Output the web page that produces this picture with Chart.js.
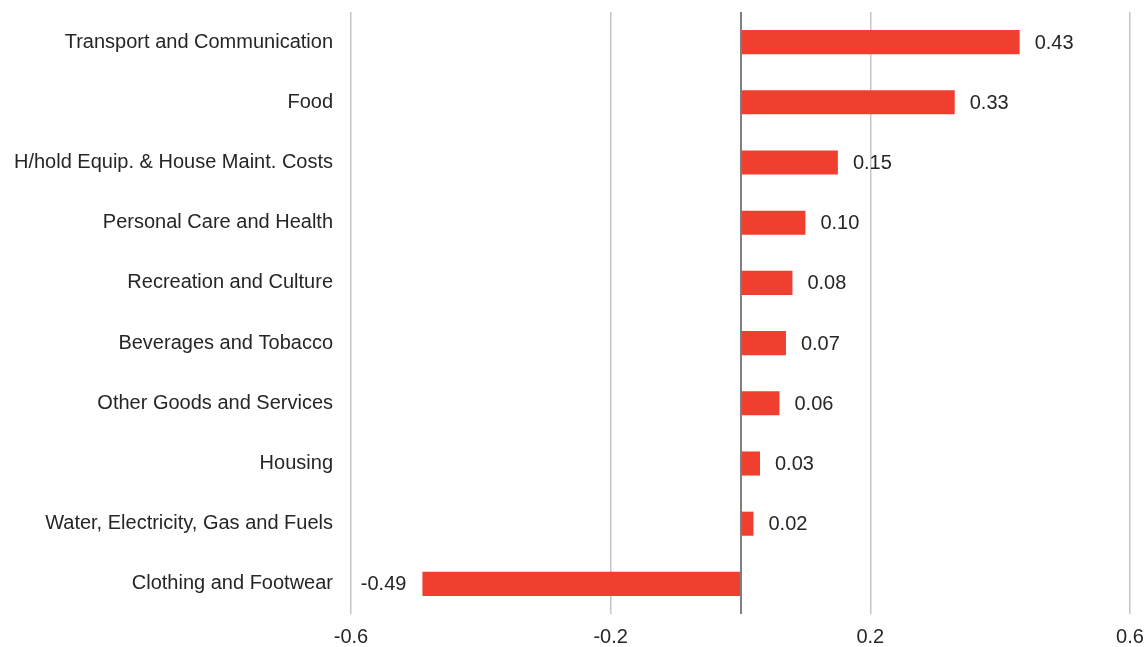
<!DOCTYPE html>
<html>
<head>
<meta charset="utf-8">
<script src="https://cdn.jsdelivr.net/npm/chart.js@4.4.1/dist/chart.umd.min.js"></script>
<style>
  html, body { margin: 0; padding: 0; background: #fff; }
  #wrap { width: 1145px; height: 647px; position: relative; }
</style>
</head>
<body>
<div id="wrap"><canvas id="contribChart"></canvas></div>
<script>
const categories = [
    'Transport and Communication',
    'Food',
    'H/hold Equip. & House Maint. Costs',
    'Personal Care and Health',
    'Recreation and Culture',
    'Beverages and Tobacco',
    'Other Goods and Services',
    'Housing',
    'Water, Electricity, Gas and Fuels',
    'Clothing and Footwear'
];
const contributions = [0.43, 0.33, 0.15, 0.10, 0.08, 0.07, 0.06, 0.03, 0.02, -0.49];
const xTickValues = [-0.6, -0.2, 0.2, 0.6];

const textColor = '#262626';
const fontFamily = 'Arial, "Liberation Sans", sans-serif';

// value labels next to each bar end
const barLabels = {
    id: 'barLabels',
    afterDatasetsDraw(chart) {
        const ctx = chart.ctx;
        const meta = chart.getDatasetMeta(0);
        ctx.save();
        ctx.font = '20px ' + fontFamily;
        ctx.fillStyle = textColor;
        ctx.textBaseline = 'middle';
        meta.data.forEach((bar, i) => {
            const v = contributions[i];
            if (v >= 0) {
                ctx.textAlign = 'left';
                ctx.fillText(v.toFixed(2), bar.x + 15, bar.y + 1);
            } else {
                ctx.textAlign = 'right';
                ctx.fillText(v.toFixed(2), bar.x - 16, bar.y + 1);
            }
        });
        ctx.restore();
    }
};

// darker line at zero
const zeroLine = {
    id: 'zeroLine',
    afterDatasetsDraw(chart) {
        const x = Math.round(chart.scales.x.getPixelForValue(0));
        const area = chart.chartArea;
        const ctx = chart.ctx;
        ctx.save();
        ctx.strokeStyle = '#7f7f7f';
        ctx.lineWidth = 2;
        ctx.beginPath();
        ctx.moveTo(x, area.top);
        ctx.lineTo(x, area.bottom);
        ctx.stroke();
        ctx.restore();
    }
};

new Chart(document.getElementById('contribChart').getContext('2d'), {
    type: 'bar',
    data: {
        labels: categories,
        datasets: [{
            data: contributions,
            backgroundColor: '#f03f2e',
            borderWidth: 0,
            barPercentage: 0.4,
            categoryPercentage: 1.0
        }]
    },
    options: {
        indexAxis: 'y',
        responsive: true,
        maintainAspectRatio: false,
        animation: false,
        layout: {
            padding: { top: 12, left: 10, right: 15, bottom: 0 }
        },
        plugins: {
            legend: { display: false },
            tooltip: { enabled: false }
        },
        scales: {
            x: {
                min: -0.6,
                max: 0.6,
                afterBuildTicks: function(scale) {
                    scale.ticks = xTickValues.map(v => ({ value: v }));
                },
                afterFit: function(scale) {
                    scale.paddingLeft = 0;
                    scale.paddingRight = 0;
                    scale.height = 33;
                },
                grid: {
                    color: '#c6c6c6',
                    lineWidth: 1.5,
                    drawTicks: false
                },
                border: { display: false },
                ticks: {
                    padding: 11,
                    color: textColor,
                    font: { size: 20, family: fontFamily },
                    maxRotation: 0,
                    callback: function(value) {
                        return Number(value).toFixed(1);
                    }
                }
            },
            y: {
                afterFit: function(scale) {
                    scale.paddingTop = 0;
                    scale.paddingBottom = 0;
                    scale.width = 341;
                },
                grid: { display: false, drawTicks: false },
                border: { display: false },
                ticks: {
                    padding: 18,
                    color: textColor,
                    font: { size: 20, family: fontFamily }
                }
            }
        }
    },
    plugins: [zeroLine, barLabels]
});
</script>
</body>
</html>
